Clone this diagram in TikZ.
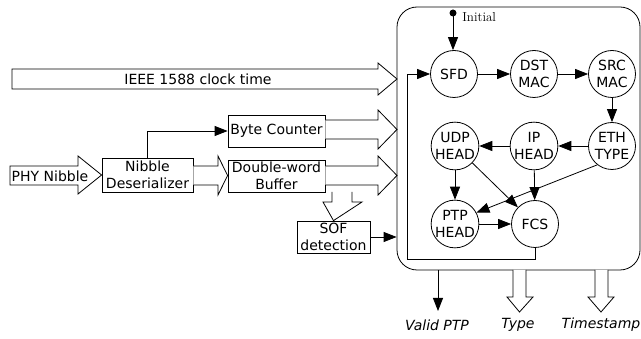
\documentclass[tikz,border=0pt]{standalone}
\usepackage{fontspec}
\newfontfamily\dvs{DejaVu Sans}
\usetikzlibrary{arrows.meta}

\begin{document}
\begin{tikzpicture}[x=1pt,y=-1pt,line width=0.8pt,
  sans/.style={font=\dvs\fontsize{14}{16.5}\selectfont},
  block/.style={draw,sans,align=center,inner sep=1pt},
  state/.style={draw,circle,sans,align=center,inner sep=0pt,minimum size=47pt},
  arr/.style={-{Triangle[length=13pt,width=10pt]}},
  fat/.style={draw,fill=white,line join=miter},
  outlbl/.style={font=\dvs\itshape\fontsize{14}{16}\selectfont}]
\useasboundingbox (0,0) rectangle (641,339);

% state machine frame
\node[draw,rounded corners=20pt,minimum width=243pt,minimum height=263pt,inner sep=0pt]
  (fsm) at (518.5,138.5) {};

% input side blocks
\node[block,minimum width=91pt,minimum height=34pt] (deser) at (147.5,175) {Nibble\\Deserializer};
\node[block,minimum width=97pt,minimum height=32pt] (bc) at (276.5,131) {Byte Counter};
\node[block,minimum width=97pt,minimum height=32pt] (buf) at (276.5,176) {Double-word\\Buffer};
\node[block,minimum width=73pt,minimum height=32pt] (sof) at (333.5,237) {SOF\\detection};

% wide (bus) arrows
\draw[fat] (12,69) -- (378,69) -- (378,63) -- (397,79) -- (378,95) -- (378,89) -- (12,89) -- cycle;
\node[sans] (clk) at (198,79) {IEEE 1588 clock time};
\draw[fat] (bc.east |- 0,120) -- (378,120) -- (378,110) -- (397,129.5) -- (378,149) -- (378,139) -- (bc.east |- 0,139);
\draw[fat] (buf.east |- 0,166) -- (378,166) -- (378,156) -- (397,175.5) -- (378,195) -- (378,185) -- (buf.east |- 0,185);
\draw[fat] (10,166) -- (78,166) -- (78,156) -- (deser.west |- 0,175) -- (78,194) -- (78,185) -- (10,185) -- cycle;
\node[sans] (phy) at (50,176) {PHY Nibble};
\draw[fat] (deser.east |- 0,166) -- (218,166) -- (218,156) -- (bc.west |- 0,175.5) -- (218,195) -- (218,185) -- (deser.east |- 0,185);
\draw[fat] (332,192) -- (332,202) -- (323,202) -- (sof.north) -- (362,202) -- (352,202) -- (352,192);

% byte counter feed and SOF flag
\draw[arr] (deser.north) |- (bc.west);
\draw[arr] (sof.east) -- (sof.east -| fsm.west);

% states
\node[state] (sfd) at (454,74) {SFD};
\node[state] (dst) at (534,74) {DST\\MAC};
\node[state] (src) at (612,74) {SRC\\MAC};
\node[state] (eth) at (612,146) {ETH\\TYPE};
\node[state] (ip) at (534,146) {IP\\HEAD};
\node[state] (udp) at (455,146) {UDP\\HEAD};
\node[state] (ptp) at (455,224) {PTP\\HEAD};
\node[state] (fcs) at (535,224) {FCS};

% initial marker
\coordinate (init) at (453,13);
\fill (init) circle (3.5pt);
\node[anchor=west,font=\fontsize{13}{15}\selectfont,inner sep=0pt] (initlbl) at (462,17) {Initial};
\draw[arr] (init) -- (init |- sfd.north);

% transitions
\draw[arr] (sfd) -- (dst);
\draw[arr] (dst) -- (src);
\draw[arr] (src) -- (eth);
\draw[arr] (eth) -- (ip);
\draw[arr] (ip) -- (udp);
\draw[arr] (udp) -- (ptp);
\draw[arr] (udp) -- (fcs);
\draw[arr] (ip) -- (fcs);
\draw[arr] (eth.232) -- (ptp.28);
\draw[arr] (ptp) -- (fcs);
\coordinate (loopc) at (407,259);
\draw[arr] (fcs.south) |- (loopc) |- (sfd.west);

% outputs
\coordinate (vp) at (438,311);
\draw[arr] (fsm.south -| vp) -- (vp);
\node[outlbl] (vlbl) at (437,325) {Valid PTP};
\draw[fat] (513,270) -- (513,297) -- (507,297) -- (519.5,312) -- (533,297) -- (526,297) -- (526,270);
\node[outlbl] (tlbl) at (518,325) {Type};
\draw[fat] (595,270) -- (595,297) -- (588,297) -- (601,312) -- (614,297) -- (608,297) -- (608,270);
\node[outlbl] (tslbl) at (601,325) {Timestamp};
\end{tikzpicture}
\end{document}
